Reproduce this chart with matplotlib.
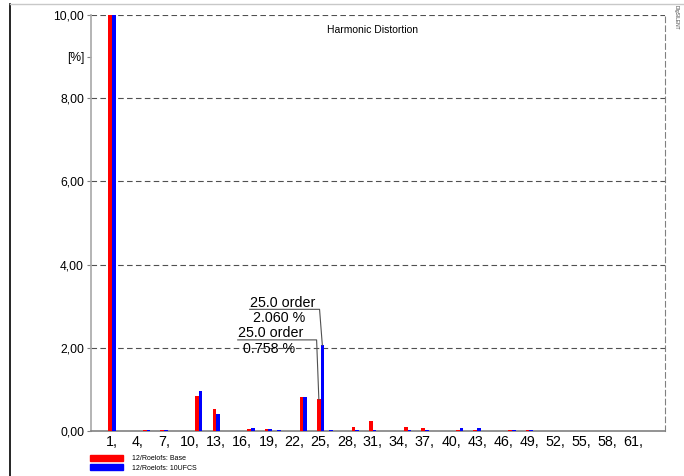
import matplotlib
matplotlib.use('Agg')
import matplotlib.pyplot as plt
from matplotlib.patches import Patch
from matplotlib.lines import Line2D
import numpy as np

plt.rcParams['font.family'] = ['Liberation Sans', 'DejaVu Sans']

# harmonic order and distortion [%] per case
harmonics = [1, 5, 7, 11, 13, 17, 19, 20, 23, 25, 26, 29, 31, 35, 37, 41, 43, 47, 49]
base = [100, 0.03, 0.02, 0.84, 0.52, 0.04, 0.04, 0.0, 0.82, 0.758, 0.0, 0.10,
        0.24, 0.09, 0.07, 0.03, 0.03, 0.03, 0.03]
ufcs = [100, 0.02, 0.02, 0.95, 0.41, 0.07, 0.05, 0.02, 0.82, 2.06, 0.02, 0.02,
        0.02, 0.02, 0.02, 0.07, 0.07, 0.02, 0.02]
labels = ['12/Roelofs: Base', '12/Roelofs: 10UFCS']
xticks = list(range(1, 62, 3))
yticks = [0, 2, 4, 6, 8, 10]

fig = plt.figure(figsize=(6.84, 4.76), dpi=100)
ax = fig.add_axes([91 / 684, 45 / 476, 574 / 684, 416 / 476])

w = 0.42
ax.bar(np.array(harmonics) - w, base, width=w, align='edge', color='#ff0000', zorder=3)
ax.bar(np.array(harmonics), ufcs, width=w, align='edge', color='#0000ff', zorder=3)

ax.set_xlim(-1.4, 64.6)
ax.set_ylim(0, 10)

# axes frame
ax.spines['top'].set_visible(False)
ax.spines['left'].set_color('#a8a8a8')
ax.spines['bottom'].set_color('#808080')
ax.spines['right'].set_color('#808080')
ax.spines['right'].set_linestyle((0, (5, 3)))
ax.spines['left'].set_linewidth(1.2)
ax.spines['bottom'].set_linewidth(1.2)

for y in yticks[1:]:
    ax.axhline(y, color='#505050', lw=0.8, ls=(0, (5, 3)), zorder=1)

ax.set_yticks(yticks + [9])
ax.set_yticklabels([f'{v:.2f}'.replace('.', ',') for v in yticks] + ['[%]'], fontsize=8.7)
ax.tick_params(axis='y', length=3, width=0.8, color='#808080', pad=2)
ax.set_xticks(xticks)
ax.set_xticklabels([f'{v},' for v in xticks], fontsize=10.3)
ax.tick_params(axis='x', length=0, pad=3)

ax.text(0.49, 0.975, 'Harmonic Distortion', transform=ax.transAxes, fontsize=7.5,
        ha='center', va='top')

# annotations for the 25th harmonic
lc = '#505050'
ax.text(16.84, 2.98, '25.0 order', fontsize=10.3, ha='left', va='baseline')
ax.text(17.19, 2.89, '2.060 %', fontsize=10.3, ha='left', va='top')
ax.plot([16.84, 24.88, 25.2], [2.925, 2.925, 2.06], color=lc, lw=0.8, zorder=4)
ax.text(15.47, 2.26, '25.0 order', fontsize=10.3, ha='left', va='baseline')
ax.text(16.04, 2.15, '0.758 %', fontsize=10.3, ha='left', va='top')
ax.plot([15.47, 24.54, 24.8], [2.19, 2.19, 0.758], color=lc, lw=0.8, zorder=4)

handles = [Patch(color='#ff0000'), Patch(color='#0000ff')]
fig.legend(handles, labels, loc='upper left', bbox_to_anchor=(90 / 684, 1 - 455 / 476),
           frameon=False, fontsize=5, handlelength=4.8, handleheight=0.9,
           labelspacing=0.3, handletextpad=1.2, borderpad=0, borderaxespad=0)

# window frame
fig.add_artist(Line2D([10 / 684, 10 / 684], [0, 1 - 4 / 476], color='black', lw=1.2))
fig.add_artist(Line2D([10 / 684, 1], [1 - 4 / 476, 1 - 4 / 476], color='#c8c8c8', lw=1))
fig.text(676 / 684, 1 - 5 / 476, 'DIgSILENT', rotation=-90, fontsize=3.5,
         ha='center', va='top', color='#404040')

fig.savefig('out.png', dpi=100)
